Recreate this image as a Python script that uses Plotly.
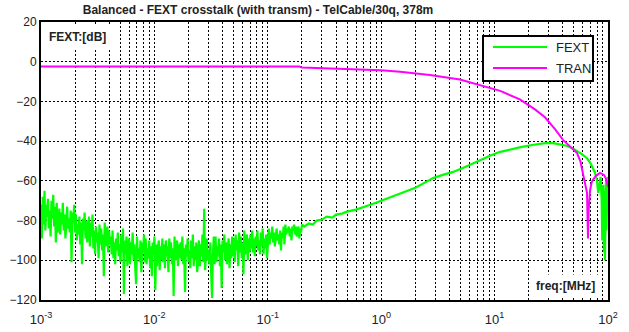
import numpy as np
import plotly.graph_objects as go

TITLE = "Balanced - FEXT crosstalk (with transm) - TelCable/30q, 378m"

# FEXT: noisy low-frequency part, sampled on a log grid 1e-3 .. 0.2 MHz
NOISE_DB = [
    -72, -89, -68, -82, -65, -85, -72, -78, -69, -84, -75, -88, -70, -79, -67, -83, -73, -91, -71, -86,
    -83, -74, -87, -76, -82, -71, -85, -77, -89, -78, -73, -84, -79, -86, -75, -101, -76, -81, -72, -86,
    -77, -90, -82, -87, -78, -92, -81, -102, -79, -85, -76, -89, -80, -91, -82, -78, -93, -81, -88, -77,
    -94, -85, -97, -83, -91, -86, -99, -82, -92, -84, -95, -87, -108, -81, -93, -88, -83, -96, -85, -92,
    -88, -97, -85, -99, -91, -102, -89, -95, -86, -98, -92, -101, -87, -96, -84, -117, -90, -97, -88, -103,
    -98, -89, -102, -91, -97, -86, -100, -92, -104, -112, -88, -99, -94, -101, -90, -106, -91, -96, -87, -101,
    -89, -102, -94, -99, -90, -104, -93, -108, -91, -97, -88, -115, -92, -103, -94, -90, -105, -93, -100, -89,
    -101, -92, -104, -90, -98, -93, -106, -89, -99, -91, -102, -94, -118, -88, -100, -95, -90, -103, -92, -99,
    -91, -100, -88, -102, -94, -116, -92, -98, -89, -101, -95, -104, -90, -99, -87, -103, -93, -100, -91, -106,
    -99, -90, -103, -92, -98, -87, -101, -74, -105, -94, -89, -100, -95, -102, -91, -107, -119, -97, -88, -102,
    -88, -101, -93, -98, -89, -103, -92, -114, -90, -96, -87, -100, -91, -102, -93, -89, -104, -92, -99, -88,
    -98, -89, -101, -87, -95, -90, -103, -86, -96, -88, -99, -91, -107, -85, -97, -92, -87, -100, -89, -96,
    -87, -94, -85, -96, -89, -98, -88, -93, -85, -95, -90, -97, -86, -93, -84, -97, -89, -94, -87, -99,
    -90, -84, -92, -86, -89, -83, -91, -86, -93, -87, -84, -90, -87, -92, -85, -95, -86, -89, -83, -92,
    -82, -87, -84, -86, -83, -88, -84, -90, -83, -85, -82, -87, -83, -88, -84, -83, -89, -84, -86, -82,
]
NOISE_F = np.logspace(-3, np.log10(0.2), len(NOISE_DB))

# FEXT: smoother high-frequency part
SMOOTH_F = [0.21, 0.23, 0.25, 0.27, 0.30, 0.33, 0.37, 0.40, 0.45, 0.50, 0.60, 0.70, 0.80, 0.90,
            1.0, 1.2, 1.5, 1.8, 2.0, 2.4, 2.9, 3.5, 4.3, 5.5, 7.4, 9.0, 11, 14, 17, 22, 28, 33,
            38, 43, 48, 53, 57, 62, 66, 70, 74, 77, 80, 82, 84, 86, 88, 89, 90, 91, 92, 93, 94,
            95, 96, 97, 98, 99, 100]
SMOOTH_DB = [-83, -81.5, -82, -80, -79.5, -78, -78.5, -77, -76.5, -75.5, -74.5, -73, -72, -71,
             -70, -68, -66, -64.5, -63.5, -61, -58.5, -57, -55.5, -53, -49.5, -47.5, -45.5, -44,
             -43, -41.8, -41, -41, -41.5, -42.3, -43.5, -44.7, -46, -47.5, -49, -51, -53.5, -56,
             -60, -66, -62, -58, -70, -90, -72, -62, -96, -65, -100, -68, -60, -85, -62, -58, -60]

# TRAN
TRAN_F = [0.001, 0.19, 0.2, 0.3, 0.53, 1.0, 1.47, 2.69, 4.95, 7.43, 11.2, 16.7, 22.7, 27.8,
          34.1, 40.1, 46.2, 53.3, 57, 60.2, 63, 65.3, 66.6, 67.5, 69.4, 71.5, 73.7, 78, 84.9,
          88, 92.2, 96, 100]
TRAN_DB = [-2.4, -2.4, -2.9, -3.2, -3.7, -4.3, -5, -6.7, -9, -11.7, -14.7, -19, -24, -28,
           -34, -39.4, -42.5, -46, -50, -56, -61, -66, -89, -75, -65, -61, -59.5, -57.5, -56,
           -56.5, -57, -59, -63]

FEXT_F = list(NOISE_F) + SMOOTH_F
FEXT_DB = NOISE_DB + SMOOTH_DB

Y_TICKS = [20, 0, -20, -40, -60, -80, -100, -120]
X_TICKS = [1e-3, 1e-2, 1e-1, 1e0, 1e1, 1e2]
X_TEXT = ["10<sup>-3</sup>", "10<sup>-2</sup>", "10<sup>-1</sup>", "10<sup>0</sup>",
          "10<sup>1</sup>", "10<sup>2</sup>"]

FONT = "Liberation Sans, Arial, sans-serif"

fig = go.Figure()
fig.add_trace(go.Scatter(x=FEXT_F, y=FEXT_DB, mode="lines", name="FEXT",
                         line=dict(color="#00ff00", width=2.2), showlegend=False))
fig.add_trace(go.Scatter(x=TRAN_F, y=TRAN_DB, mode="lines", name="TRAN",
                         line=dict(color="#ff00ff", width=2), showlegend=False))

L, R, T, B = 41, 21, 22, 32
W, H = 629, 332
pw, ph = W - L - R, H - T - B


def px(x):
    return (x - L) / pw


def py(y):
    return (H - B - y) / ph


grid = dict(showgrid=True, gridcolor="black", gridwidth=1, griddash="2px,2px")

fig.update_xaxes(type="log", range=[-3, 2], tickmode="array", tickvals=X_TICKS, ticktext=X_TEXT,
                 showline=True, linecolor="black", linewidth=2, mirror=True, ticks="",
                 ticklabelstandoff=6, automargin=False,
                 zeroline=False, tickfont=dict(family=FONT, size=13, color="#222"),
                 minor=dict(dtick="D1", showgrid=True, gridcolor="black", gridwidth=1,
                            griddash="2px,2px", ticks=""),
                 **grid)
fig.update_yaxes(range=[-120, 20], tickmode="array", tickvals=Y_TICKS, automargin=False,
                 showline=True, linecolor="black", linewidth=2, mirror=True, ticks="",
                 zeroline=False, tickfont=dict(family=FONT, size=12, color="#222"),
                 **grid)

shapes = [
    dict(type="rect", xref="paper", yref="paper", x0=px(483), x1=px(593), y0=py(81), y1=py(36),
         line=dict(color="black", width=2), fillcolor="white", layer="above"),
    dict(type="line", xref="paper", yref="paper", x0=px(493), x1=px(547), y0=py(47), y1=py(47),
         line=dict(color="#00ff00", width=2), layer="above"),
    dict(type="line", xref="paper", yref="paper", x0=px(493), x1=px(547), y0=py(68), y1=py(68),
         line=dict(color="#ff00ff", width=2), layer="above"),
]

annotations = [
    dict(text="FEXT", x=px(554), y=py(47), xref="paper", yref="paper", xanchor="left",
         yanchor="middle", showarrow=False, font=dict(family=FONT, size=13, color="#222")),
    dict(text="TRAN", x=px(554), y=py(68), xref="paper", yref="paper", xanchor="left",
         yanchor="middle", showarrow=False, font=dict(family=FONT, size=13, color="#222")),
    dict(text="<b>FEXT:[dB]</b>", x=px(43), y=py(24), xref="paper", yref="paper",
         xanchor="left", yanchor="top", showarrow=False, bgcolor="white", borderpad=5,
         font=dict(family=FONT, size=12, color="#222")),
    dict(text="<b>freq:[MHz]</b>", x=px(600), y=py(298), xref="paper", yref="paper",
         xanchor="right", yanchor="bottom", showarrow=False, bgcolor="white", borderpad=4,
         font=dict(family=FONT, size=12, color="#222")),
]

fig.update_layout(
    width=W, height=H,
    margin=dict(l=L, r=R, t=T, b=B, autoexpand=False),
    paper_bgcolor="white", plot_bgcolor="white",
    title=dict(text="<b>" + TITLE + "</b>", x=px(258), xanchor="center", y=1 - 10 / H,
               yanchor="middle", xref="paper", font=dict(family=FONT, size=12, color="#222")),
    shapes=shapes, annotations=annotations,
    showlegend=False,
    hovermode=False,
)

fig.write_html("out.html", config={"displayModeBar": False, "staticPlot": True},
               post_script="document.body.style.margin='0px';")
